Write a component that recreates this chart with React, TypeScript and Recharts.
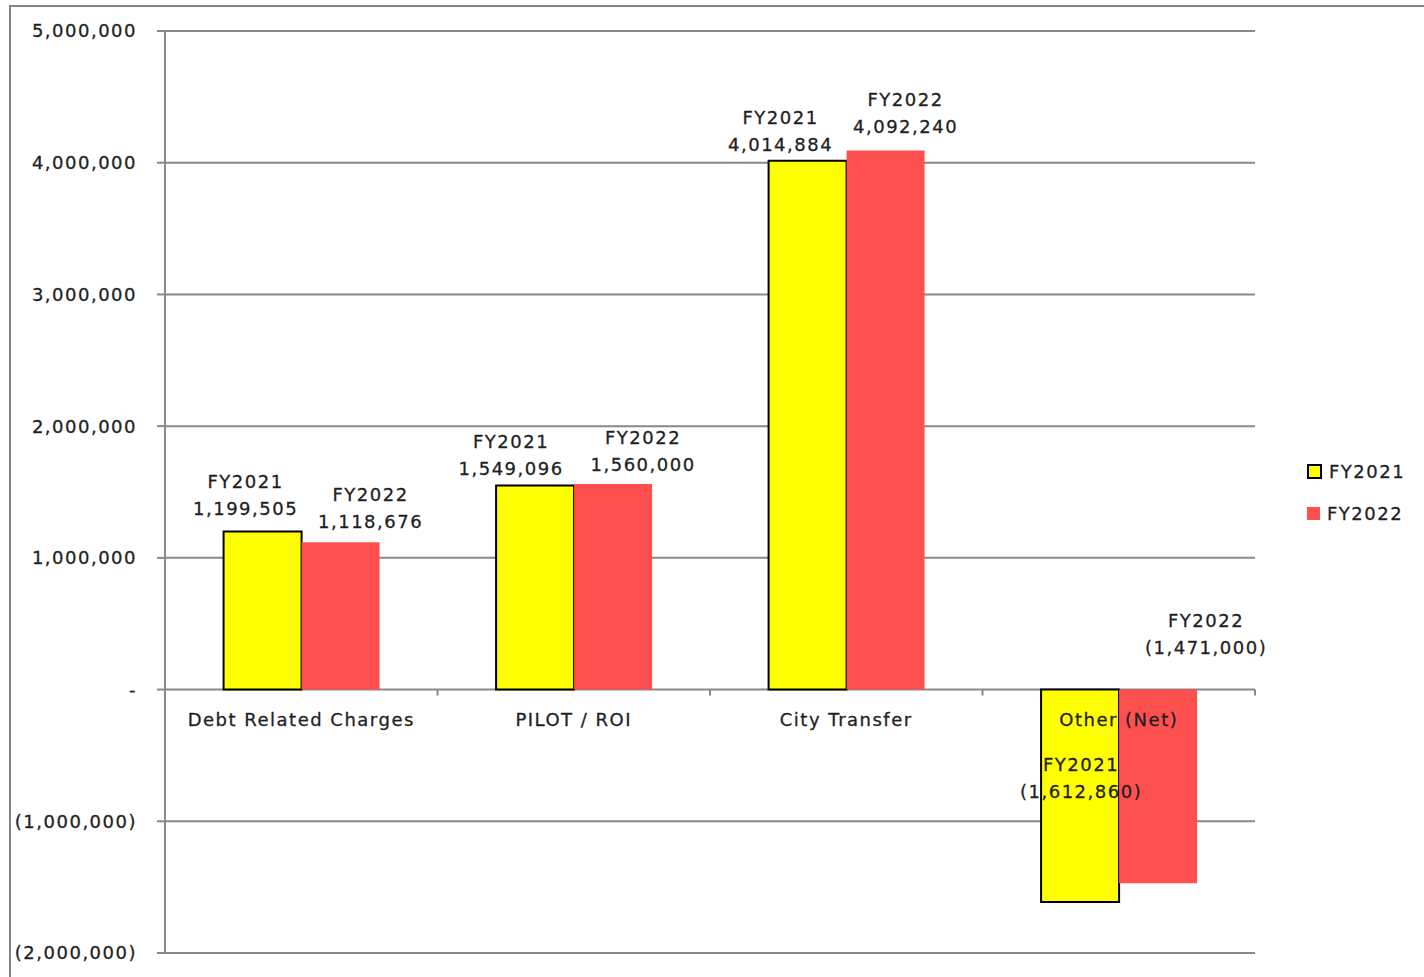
import React from "react";
import {
  ComposedChart,
  Bar,
  Line,
  XAxis,
  YAxis,
  CartesianGrid,
  LabelList,
  ReferenceLine,
} from "recharts";

const categories = ["Debt Related Charges", "PILOT / ROI", "City Transfer", "Other (Net)"];
const fy2021 = [1199505, 1549096, 4014884, -1612860];
const fy2022 = [1118676, 1560000, 4092240, -1471000];
const yTicks = [-2000000, -1000000, 0, 1000000, 2000000, 3000000, 4000000, 5000000];
const seriesNames = ["FY2021", "FY2022"];

// label placement tweaks (pixels, relative to bar center / bar top edge)
const labelShift2021 = [
  { dx: -17, dy: -23 },
  { dx: -24, dy: -17 },
  { dx: -27, dy: -16 },
  { dx: 1, dy: 102 },
];
const labelShift2022 = [
  { dx: 30, dy: -21 },
  { dx: 30, dy: -20 },
  { dx: 20, dy: -24 },
  { dx: 48, dy: -42 },
];

const data = categories.map((name, i) => ({
  name,
  fy2021: fy2021[i],
  fy2022: fy2022[i],
  zero: 0,
}));

const FONT = "'DejaVu Sans', Verdana, sans-serif";
const TEXT = "#1f1f1f";
const GRID = "#888888";
const YELLOW = "#FFFF00";
const RED = "#FF5050";

const fmt = (v: number) => {
  if (v === 0) return "-";
  const s = Math.abs(v).toLocaleString("en-US");
  return v < 0 ? `(${s})` : s;
};

const textProps = {
  fontFamily: FONT,
  fontSize: 18,
  letterSpacing: 1.5,
  fill: TEXT,
  stroke: TEXT,
  strokeWidth: 0.3,
};

const makeLabel = (series: string, shifts: { dx: number; dy: number }[]) => (props: any) => {
  const { x, y, width, height, value, index } = props;
  const cx = Number(x) + Number(width) / 2;
  const top = Math.min(Number(y), Number(y) + Number(height));
  const s = shifts[index] || { dx: 0, dy: -20 };
  const vx = cx + s.dx;
  const vy = top + s.dy;
  return (
    <g>
      <text x={vx} y={vy - 27 + 6.5} textAnchor="middle" {...textProps}>
        {series}
      </text>
      <text x={vx} y={vy + 6.5} textAnchor="middle" {...textProps}>
        {fmt(Number(value))}
      </text>
    </g>
  );
};

const CategoryLabel = (props: any) => {
  const { x, y, value } = props;
  return (
    <text x={x} y={Number(y) + 36} textAnchor="middle" {...textProps}>
      {value}
    </text>
  );
};

const LegendBox = () => {
  const colors = [YELLOW, RED];
  return (
    <div
      style={{
        position: "absolute",
        left: 1307,
        top: 450,
        fontFamily: FONT,
        fontSize: 18,
        letterSpacing: 1.5,
        color: TEXT,
        WebkitTextStroke: "0.3px #1f1f1f",
      }}
    >
      {seriesNames.map((n, i) => (
        <div key={n} style={{ display: "flex", alignItems: "center", height: 42 }}>
          <span
            style={{
              display: "inline-block",
              width: i === 0 ? 11 : 13,
              height: i === 0 ? 11 : 13,
              background: colors[i],
              border: i === 0 ? "2px solid #000" : "none",
              marginRight: 7,
            }}
          />
          <span>{n}</span>
        </div>
      ))}
    </div>
  );
};

export default function App() {
  return (
    <div style={{ position: "absolute", left: 0, top: 0, width: 1424, height: 977, background: "#fff" }}>
      <div
        style={{
          position: "absolute",
          left: 9,
          top: 5,
          width: 1415,
          height: 972,
          borderLeft: "2px solid #858585",
          borderTop: "2px solid #858585",
          boxSizing: "border-box",
        }}
      />
      <div style={{ position: "absolute", left: 0, top: 0 }}>
        <ComposedChart
          width={1424}
          height={977}
          data={data}
          margin={{ top: 31, right: 169, bottom: 24, left: 0 }}
          barCategoryGap="21.5%"
          barGap={0}
        >
          <CartesianGrid vertical={false} stroke={GRID} strokeWidth={2} />
          <XAxis dataKey="name" hide />
          <YAxis
            width={165}
            domain={[-2000000, 5000000]}
            ticks={yTicks}
            interval={0}
            tickFormatter={fmt}
            axisLine={{ stroke: GRID, strokeWidth: 2 }}
            tickLine={{ stroke: GRID, strokeWidth: 2 }}
            tickSize={8}
            tickMargin={20}
            tick={textProps}
          />
          {categories.map((c) => (
            <ReferenceLine
              key={c}
              segment={[
                { x: c, y: 0 },
                { x: c, y: -45000 },
              ]}
              position="end"
              stroke={GRID}
              strokeWidth={2}
              ifOverflow="visible"
            />
          ))}
          <Bar dataKey="fy2021" name="FY2021" fill={YELLOW} stroke="#000" strokeWidth={2} isAnimationActive={false}>
            <LabelList dataKey="fy2021" content={makeLabel("FY2021", labelShift2021)} />
          </Bar>
          <Bar dataKey="fy2022" name="FY2022" fill={RED} isAnimationActive={false}>
            <LabelList dataKey="fy2022" content={makeLabel("FY2022", labelShift2022)} />
          </Bar>
          <Line
            dataKey="zero"
            stroke="none"
            dot={false}
            activeDot={false}
            legendType="none"
            isAnimationActive={false}
          >
            <LabelList dataKey="name" content={CategoryLabel} />
          </Line>
        </ComposedChart>
      </div>
      <LegendBox />
    </div>
  );
}
